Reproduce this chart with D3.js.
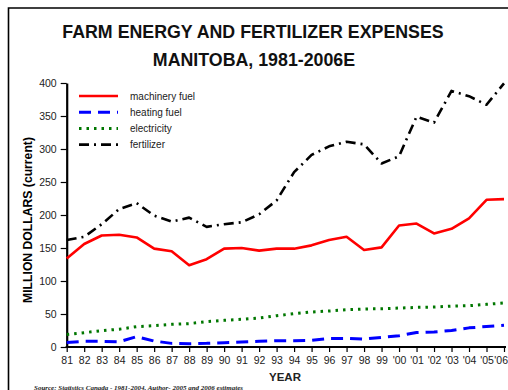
<!DOCTYPE html>
<html>
<head>
<meta charset="utf-8">
<script src="https://cdn.jsdelivr.net/npm/d3@7/dist/d3.min.js"></script>
<style>
  html, body { margin: 0; padding: 0; background: #fff; }
  svg { display: block; }
</style>
</head>
<body>
<svg id="chart" width="508" height="390"></svg>
<script>
// Years and tick labels
const years = d3.range(1981, 2007);
const yearLabels = ["81","82","83","84","85","86","87","88","89","90","91","92","93","94","95","96","97","98","99","'00","'01","'02","'03","'04","'05","'06"];

// Expenses, million dollars (current)
const machineryFuel = [134, 156, 169, 170, 166, 149, 145, 124, 133, 149, 150, 146, 149, 149, 154, 162, 167, 147, 151, 184, 187, 172, 179, 195, 223, 224];
const heatingFuel   = [7, 8.6, 8.6, 8, 15.7, 9, 5.5, 5, 5.5, 6.6, 7.6, 8.6, 9.6, 9.6, 10, 13, 13, 12, 14.6, 17, 22, 22.7, 25, 29, 31, 33];
const electricity   = [19, 21.7, 24.7, 27, 30.8, 32.3, 34.3, 35.4, 38.4, 40.4, 42, 44, 47.5, 50.5, 53, 54.5, 56.5, 57.6, 58, 59, 60, 60.6, 62, 62.6, 64.6, 66.7];
const fertilizer    = [162, 167, 186, 209, 218, 199, 190, 196, 182, 186, 189, 201, 222, 265, 291, 304, 311, 307, 278, 289, 349, 340, 388, 380, 367, 399.5];

const yTicks = [0, 50, 100, 150, 200, 250, 300, 350, 400];

const seriesNames = ["machinery fuel", "heating fuel", "electricity", "fertilizer"];
const seriesValues = [machineryFuel, heatingFuel, electricity, fertilizer];

// Line styles per series
const styles = [
  { color: "#ff0000", dash: null, width: 2.6 },
  { color: "#0000ff", dash: "12,7", width: 3 },
  { color: "#007700", dash: "2.5,5", width: 3 },
  { color: "#000000", dash: "10,5,2,5", width: 2.6 }
];

const svg = d3.select("#chart");
const font = "Arial, 'Liberation Sans', Helvetica, sans-serif";

// Outer frame
svg.append("path")
  .attr("d", "M8.5,400 L8.5,8 L520,8")
  .attr("fill", "none")
  .attr("stroke", "#000")
  .attr("stroke-width", 1.6);

// Title
svg.append("text")
  .attr("x", 253).attr("y", 38)
  .attr("text-anchor", "middle")
  .attr("font-family", font).attr("font-weight", "bold").attr("font-size", 17.8)
  .attr("fill", "#111")
  .text("FARM ENERGY AND FERTILIZER EXPENSES");
svg.append("text")
  .attr("x", 254).attr("y", 66)
  .attr("text-anchor", "middle")
  .attr("font-family", font).attr("font-weight", "bold").attr("font-size", 17.8)
  .attr("fill", "#111")
  .text("MANITOBA, 1981-2006E");

// Scales
const x = d3.scaleLinear().domain([1981, 2006]).range([66.7, 504]);
const y = d3.scaleLinear().domain([0, 400]).range([347, 83]);

// Y axis
const yAxis = svg.append("g")
  .attr("transform", "translate(66.7,0)")
  .call(d3.axisLeft(y).tickValues(yTicks).tickSize(6).tickPadding(4).tickSizeOuter(0));
yAxis.select(".domain").attr("stroke", "#000").attr("stroke-width", 2.2);
yAxis.selectAll(".tick line").attr("stroke", "#000").attr("stroke-width", 1.2);
yAxis.selectAll(".tick text")
  .attr("font-family", font).attr("font-size", 10.5).attr("fill", "#222");

// X axis
const xAxis = svg.append("g")
  .attr("transform", "translate(0,347)")
  .call(d3.axisBottom(x).tickValues(years).tickFormat((d, i) => yearLabels[i])
    .tickSize(5).tickPadding(5).tickSizeOuter(0));
xAxis.select(".domain").attr("stroke", "#000").attr("stroke-width", 2.2)
  .attr("d", "M65.6,0H506");
xAxis.selectAll(".tick line").attr("stroke", "#000").attr("stroke-width", 1.2);
xAxis.selectAll(".tick text")
  .attr("font-family", font).attr("font-size", 10.5).attr("fill", "#222");
// Keep the last year label inside the canvas
xAxis.selectAll(".tick text").filter((d, i) => i === years.length - 1)
  .attr("text-anchor", "end").attr("x", 3.5);

// Axis titles
svg.append("text")
  .attr("transform", "translate(32,220) rotate(-90)")
  .attr("text-anchor", "middle")
  .attr("font-family", font).attr("font-weight", "bold").attr("font-size", 12.2)
  .attr("fill", "#000")
  .text("MILLION DOLLARS (current)");
svg.append("text")
  .attr("x", 285).attr("y", 381)
  .attr("text-anchor", "middle")
  .attr("font-family", font).attr("font-weight", "bold").attr("font-size", 11.5)
  .attr("fill", "#222")
  .text("YEAR");

// Source note
svg.append("text")
  .attr("x", 34).attr("y", 389.5)
  .attr("font-family", "'Liberation Serif', 'DejaVu Serif', serif")
  .attr("font-style", "italic").attr("font-weight", "bold").attr("font-size", 7)
  .attr("fill", "#222")
  .text("Source: Statistics Canada - 1981-2004, Author- 2005 and 2006 estimates");

// Series lines (fertilizer drawn last, on top)
const line = d3.line().x((d, i) => x(years[i])).y(d => y(d)).curve(d3.curveLinear);
const order = [2, 1, 0, 3];
order.forEach(k => {
  const s = styles[k];
  svg.append("path")
    .datum(seriesValues[k])
    .attr("d", line)
    .attr("fill", "none")
    .attr("stroke", s.color)
    .attr("stroke-width", s.width)
    .attr("stroke-linecap", "butt")
    .attr("stroke-linejoin", "round")
    .attr("stroke-dasharray", s.dash);
});

// Legend
const legend = svg.append("g");
seriesNames.forEach((name, i) => {
  const ly = 96 + i * 16.2;
  const s = styles[i];
  legend.append("line")
    .attr("x1", 79).attr("x2", 118)
    .attr("y1", ly).attr("y2", ly)
    .attr("stroke", s.color)
    .attr("stroke-width", s.width)
    .attr("stroke-dasharray", s.dash);
  legend.append("text")
    .attr("x", 130).attr("y", ly + 3.5)
    .attr("font-family", font).attr("font-size", 10)
    .attr("fill", "#222")
    .text(name);
});
</script>
</body>
</html>
